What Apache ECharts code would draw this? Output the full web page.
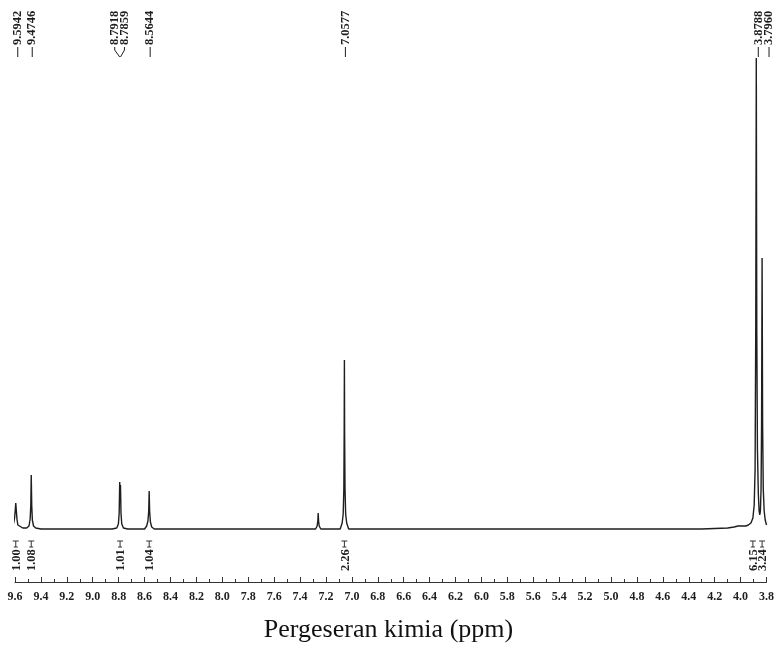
<!DOCTYPE html>
<html>
<head>
<meta charset="utf-8">
<style>
html, body { margin: 0; padding: 0; background: #fff; }
#main { width: 777px; height: 650px; }
</style>
<script src="https://cdn.jsdelivr.net/npm/echarts@6/dist/echarts.min.js"></script>
</head>
<body>
<div id="main"></div>
<script>
var chartDom = document.getElementById('main');
var myChart = echarts.init(chartDom);
var option;

// trace: chemical shift (ppm) and intensity
var shift = [
    9.620, 9.610, 9.603, 9.598, 9.5942, 9.590, 9.585, 9.578, 9.565, 9.540,
    9.510, 9.492, 9.483, 9.478, 9.4746, 9.471, 9.466, 9.457, 9.440, 9.400,
    9.100, 8.850, 8.815, 8.802, 8.796, 8.7918, 8.789, 8.7859, 8.782, 8.776,
    8.763, 8.730, 8.600, 8.584, 8.574, 8.568, 8.5644, 8.561, 8.555, 8.545,
    8.525, 8.450, 7.800, 7.400, 7.280, 7.268, 7.263, 7.260, 7.257, 7.252,
    7.240, 7.150, 7.090, 7.075, 7.067, 7.062, 7.0595, 7.0577, 7.056, 7.053,
    7.048, 7.040, 7.025, 6.950, 6.400, 5.900, 5.303, 5.299, 5.295, 4.800,
    4.300, 4.100, 4.050, 4.020, 4.005, 3.995, 3.980, 3.960, 3.940, 3.920,
    3.905, 3.895, 3.888, 3.883, 3.8788, 3.875, 3.870, 3.863, 3.857, 3.852,
    3.847, 3.842, 3.838, 3.834, 3.830, 3.825, 3.818, 3.810, 3.800
];
var intensity = [
    3, 6, 11, 19, 26, 19, 10, 4, 2, 1,
    1, 3, 10, 24, 54, 24, 9, 3, 1, 0,
    0, 0, 1, 5, 16, 47, 34, 44, 16, 5,
    1, 0, 0, 3, 8, 18, 38, 18, 7, 2,
    0, 0, 0, 0, 0, 3, 8, 16, 8, 3,
    0, 0, 0, 6, 15, 40, 95, 169, 95, 40,
    15, 6, 0, 0, 0, 0, 0, 1.5, 0, 0,
    0, 1, 2, 3, 5, 3, 3, 3, 4, 6,
    11, 24, 60, 200, 471, 200, 80, 35, 18, 14,
    18, 40, 105, 271, 105, 40, 18, 9, 4
];

// picked peaks
var peakShift = [9.5942, 9.4746, 8.7918, 8.7859, 8.5644, 7.0577, 3.8788, 3.7960];
var peakText = ['9.5942', '9.4746', '8.7918', '8.7859', '8.5644', '7.0577', '3.8788', '3.7960'];
var peakNudge = [2, 1, -5, 4, 1, 1, 2, 2];

// integrals
var integralShift = [9.5942, 9.4746, 8.789, 8.5644, 7.0577, 3.905, 3.834];
var integralText = ['1.00', '1.08', '1.01', '1.04', '2.26', '6.15', '3.24'];

var serif = 'Liberation Serif';
var ink = '#1e1e1e';

var trace = shift.map(function (s, i) { return [s, intensity[i]]; });

function rotatedText(x, y, text) {
    return {
        type: 'text',
        x: x,
        y: y,
        rotation: Math.PI / 2,
        style: {
            text: text,
            fill: ink,
            font: 'bold 12.5px "' + serif + '"',
            align: 'left',
            verticalAlign: 'middle',
            textAlign: 'left',
            textVerticalAlign: 'middle'
        }
    };
}

option = {
    animation: false,
    backgroundColor: '#fff',
    title: {
        text: 'Pergeseran kimia (ppm)',
        left: 'center',
        top: 612,
        textStyle: {
            fontFamily: serif,
            fontSize: 26,
            fontWeight: 'normal',
            color: '#111'
        }
    },
    grid: { left: 15, right: 7, top: 50, bottom: 68 },
    xAxis: {
        type: 'value',
        inverse: true,
        min: 3.8,
        max: 9.6,
        interval: 0.2,
        axisLine: { onZero: false, lineStyle: { color: '#333', width: 1 } },
        axisTick: { inside: true, length: 5, lineStyle: { color: '#333' } },
        minorTick: { show: true, splitNumber: 2, length: 3, lineStyle: { color: '#333' } },
        splitLine: { show: false },
        axisLabel: {
            margin: 9,
            color: ink,
            fontFamily: serif,
            fontWeight: 'bold',
            fontSize: 12,
            formatter: function (v) { return v.toFixed(1); }
        }
    },
    yAxis: {
        type: 'value',
        min: -53,
        max: 479,
        show: false
    },
    series: [
        {
            type: 'line',
            data: trace,
            showSymbol: false,
            symbol: 'none',
            sampling: 'none',
            lineStyle: { color: ink, width: 1.4 }
        },
        {
            // peak labels along the top
            type: 'custom',
            data: peakShift.map(function (s, i) { return [s, i]; }),
            renderItem: function (params, api) {
                var i = api.value(1);
                var px = api.coord([api.value(0), 0])[0];
                var lx = px + peakNudge[i];
                var top = params.coordSys.y;
                var pts = Math.abs(peakNudge[i]) < 3
                    ? [[lx, top - 3], [lx, top + 7]]
                    : [[lx, top - 3], [lx, top], [px, top + 7]];
                return {
                    type: 'group',
                    children: [
                        rotatedText(lx, top - 5, peakText[i]),
                        {
                            type: 'polyline',
                            shape: { points: pts },
                            style: { stroke: ink, lineWidth: 1, fill: null }
                        }
                    ]
                };
            }
        },
        {
            // integral values under the trace
            type: 'custom',
            data: integralShift.map(function (s, i) { return [s, i]; }),
            renderItem: function (params, api) {
                var i = api.value(1);
                var p = api.coord([api.value(0), 0]);
                var x = p[0];
                var y = p[1] + 12;
                var st = { stroke: '#333', lineWidth: 1 };
                return {
                    type: 'group',
                    children: [
                        { type: 'line', shape: { x1: x - 3, y1: y, x2: x + 3, y2: y }, style: st },
                        { type: 'line', shape: { x1: x, y1: y, x2: x, y2: y + 6 }, style: st },
                        { type: 'line', shape: { x1: x - 2, y1: y + 6, x2: x + 2, y2: y + 6 }, style: st },
                        rotatedText(x + 1, y + 30, integralText[i])
                    ]
                };
            }
        }
    ]
};

option && myChart.setOption(option);
</script>
</body>
</html>
